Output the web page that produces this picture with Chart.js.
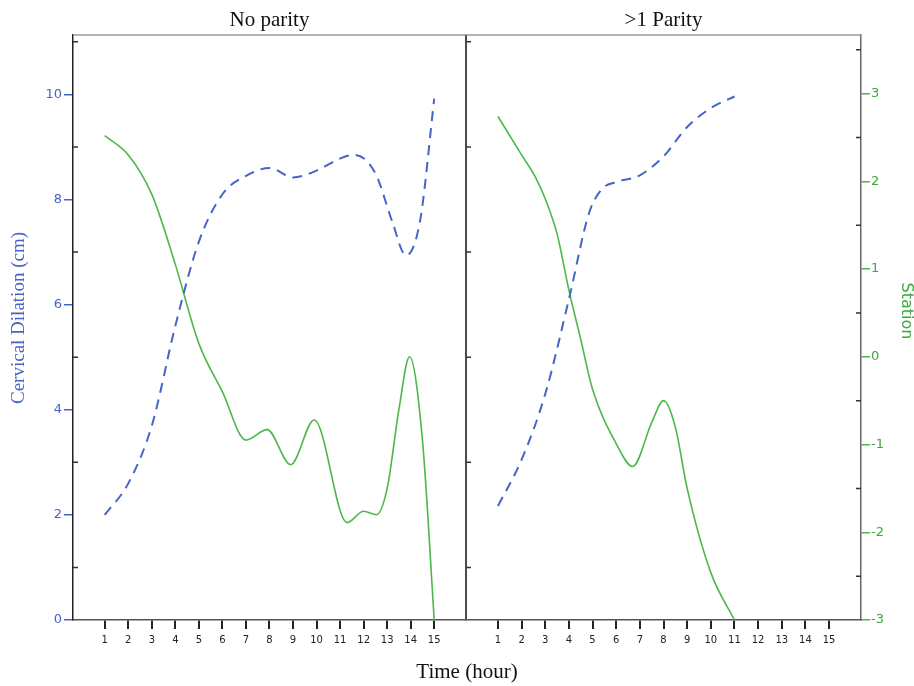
<!DOCTYPE html>
<html>
<head>
<meta charset="utf-8">
<script src="https://cdn.jsdelivr.net/npm/chart.js@4"></script>
<style>
  html, body { margin: 0; padding: 0; background: #fff; }
  #wrap { position: relative; width: 914px; height: 686px; }
  #wrap canvas { position: absolute; left: 0; top: 0; }
</style>
</head>
<body>
<div id="wrap">
  <canvas id="leftChart" width="914" height="686"></canvas>
  <canvas id="rightChart" width="914" height="686"></canvas>
</div>
<script>
// Data
const hourTicks = [1, 2, 3, 4, 5, 6, 7, 8, 9, 10, 11, 12, 13, 14, 15];
const dilationTicks = [0, 2, 4, 6, 8, 10];
const stationTicks = [-3, -2, -1, 0, 1, 2, 3];

// No parity
const dilationNoParityHours = [1, 2, 3, 4, 5, 6, 7, 8, 9, 10, 11, 11.6, 12.5, 13.2, 13.8, 14.4, 15];
const dilationNoParity = [2.0, 2.6, 3.7, 5.6, 7.2, 8.1, 8.45, 8.6, 8.42, 8.55, 8.78, 8.85, 8.5, 7.6, 6.94, 7.6, 9.92];
const stationNoParityHours = [1, 2, 3, 4, 5, 6, 7, 7.9, 8.9, 9.9, 11.3, 12.0, 12.55, 13.0, 13.5, 13.95, 14.5, 15];
const stationNoParity = [2.52, 2.3, 1.85, 1.05, 0.15, -0.4, -0.95, -0.83, -1.23, -0.72, -1.89, -1.76, -1.8, -1.5, -0.6, 0.0, -0.95, -3.0];

// >1 Parity
const dilationParityHours = [1, 2, 3, 4, 4.85, 5.4, 6, 7, 8, 9, 10, 11];
const dilationParity = [2.17, 3.05, 4.3, 6.1, 7.74, 8.2, 8.33, 8.46, 8.82, 9.38, 9.74, 9.96];
const stationParityHours = [1, 2, 2.6, 3, 3.5, 4, 4.5, 5, 6, 6.7, 7.5, 8, 8.5, 9, 10, 11];
const stationParity = [2.74, 2.3, 2.04, 1.8, 1.4, 0.76, 0.2, -0.37, -0.99, -1.25, -0.75, -0.5, -0.8, -1.5, -2.46, -3.0];

const BLUE = "#4863c6";
const GREEN = "#4cb84c";
const GREEN_TEXT = "#3aa83a";

const xMin = -0.35, xMax = 16.35;
const dilMax = 11.13, stMin = -3, stMax = 3.667;

function points(xs, ys) {
    return xs.map((x, i) => ({ x: x, y: ys[i] }));
}

function dilationSet(xs, ys) {
    return {
        data: points(xs, ys), yAxisID: "y", borderColor: BLUE, borderWidth: 2,
        borderDash: [10, 7], pointRadius: 0, cubicInterpolationMode: "monotone", fill: false
    };
}

function stationSet(xs, ys) {
    return {
        data: points(xs, ys), yAxisID: "yS", borderColor: GREEN, borderWidth: 1.6,
        pointRadius: 0, cubicInterpolationMode: "monotone", fill: false
    };
}

function xAxis() {
    return {
        type: "linear", position: "bottom", min: xMin, max: xMax,
        afterBuildTicks: s => { s.ticks = hourTicks.map(v => ({ value: v })); },
        afterFit: s => { s.height = 66; },
        grid: { drawOnChartArea: false, drawTicks: true, tickLength: 9, tickColor: "#222", lineWidth: 2 },
        border: { color: "#555", width: 1.5 },
        ticks: { color: "#222", font: { family: "DejaVu Sans", size: 10 }, padding: 5, maxRotation: 0, autoSkip: false }
    };
}

// draws top line, panel frame, small inward ticks and the titles
function framePlugin(side) {
    return {
        id: "frame" + side,
        afterDraw(chart) {
            const ctx = chart.ctx, a = chart.chartArea;
            const yD = chart.scales.y, yS = chart.scales.yS;
            ctx.save();
            ctx.strokeStyle = "#9a9a9a";
            ctx.lineWidth = 1.5;
            ctx.beginPath();
            ctx.moveTo(a.left, a.top);
            ctx.lineTo(a.right, a.top);
            ctx.stroke();
            ctx.strokeStyle = "#333";
            ctx.lineWidth = 1.5;
            ctx.beginPath();
            [1, 3, 5, 7, 9, 11].forEach(v => {
                const py = yD.getPixelForValue(v);
                ctx.moveTo(a.left, py);
                ctx.lineTo(a.left + 5, py);
            });
            if (side === "right") {
                [-2.5, -1.5, -0.5, 0.5, 1.5, 2.5, 3.5].forEach(v => {
                    const py = yS.getPixelForValue(v);
                    ctx.moveTo(a.right, py);
                    ctx.lineTo(a.right - 5, py);
                });
            }
            ctx.stroke();
            if (side === "left") {
                ctx.strokeStyle = "#111";
                ctx.lineWidth = 1.5;
                ctx.beginPath();
                ctx.moveTo(a.right, a.top);
                ctx.lineTo(a.right, a.bottom);
                ctx.stroke();
            }
            // panel title
            ctx.fillStyle = "#111";
            ctx.font = "21px 'Liberation Serif'";
            ctx.textAlign = "center";
            ctx.textBaseline = "middle";
            ctx.fillText(side === "left" ? "No parity" : ">1 Parity", (a.left + a.right) / 2, 20);
            if (side === "left") {
                ctx.fillText("Time (hour)", 467, 672);
                // y axis title
                ctx.save();
                ctx.translate(19, 318);
                ctx.rotate(-Math.PI / 2);
                ctx.fillStyle = BLUE;
                ctx.font = "19px 'Liberation Serif'";
                ctx.fillText("Cervical Dilation (cm)", 0, 0);
                ctx.restore();
            } else {
                ctx.save();
                ctx.translate(906, 311);
                ctx.rotate(Math.PI / 2);
                ctx.fillStyle = GREEN_TEXT;
                ctx.font = "16px 'DejaVu Sans'";
                ctx.fillText("Station", 0, 0);
                ctx.restore();
            }
            ctx.restore();
        }
    };
}

// Left panel: No parity
new Chart(document.getElementById("leftChart"), {
    type: "line",
    data: {
        datasets: [
            dilationSet(dilationNoParityHours, dilationNoParity),
            stationSet(stationNoParityHours, stationNoParity)
        ]
    },
    options: {
        responsive: false, animation: false,
        layout: { padding: { top: 35, right: 914 - 466, left: 0, bottom: 0 } },
        plugins: { legend: { display: false }, tooltip: { enabled: false } },
        scales: {
            x: xAxis(),
            y: {
                position: "left", min: 0, max: dilMax,
                afterBuildTicks: s => { s.ticks = dilationTicks.map(v => ({ value: v })); },
                afterFit: s => { s.width = 73; },
                grid: { drawOnChartArea: false, tickLength: 9, tickColor: BLUE, lineWidth: 1.5 },
                border: { color: "#222", width: 1.5 },
                ticks: { color: BLUE, font: { family: "DejaVu Sans", size: 13 }, padding: 2 }
            },
            yS: { display: false, min: stMin, max: stMax }
        }
    },
    plugins: [framePlugin("left")]
});

// Right panel: >1 Parity
new Chart(document.getElementById("rightChart"), {
    type: "line",
    data: {
        datasets: [
            dilationSet(dilationParityHours, dilationParity),
            stationSet(stationParityHours, stationParity)
        ]
    },
    options: {
        responsive: false, animation: false,
        layout: { padding: { top: 35, right: 0, left: 466, bottom: 0 } },
        plugins: { legend: { display: false }, tooltip: { enabled: false } },
        scales: {
            x: xAxis(),
            y: { display: false, min: 0, max: dilMax },
            yS: {
                position: "right", min: stMin, max: stMax,
                afterBuildTicks: s => { s.ticks = stationTicks.map(v => ({ value: v })); },
                afterFit: s => { s.width = 53; },
                grid: { drawOnChartArea: false, tickLength: 9, tickColor: GREEN, lineWidth: 1.5 },
                border: { color: "#666", width: 1.5 },
                ticks: { color: GREEN_TEXT, font: { family: "DejaVu Sans", size: 13 }, padding: 1 }
            }
        }
    },
    plugins: [framePlugin("right")]
});
</script>
</body>
</html>
